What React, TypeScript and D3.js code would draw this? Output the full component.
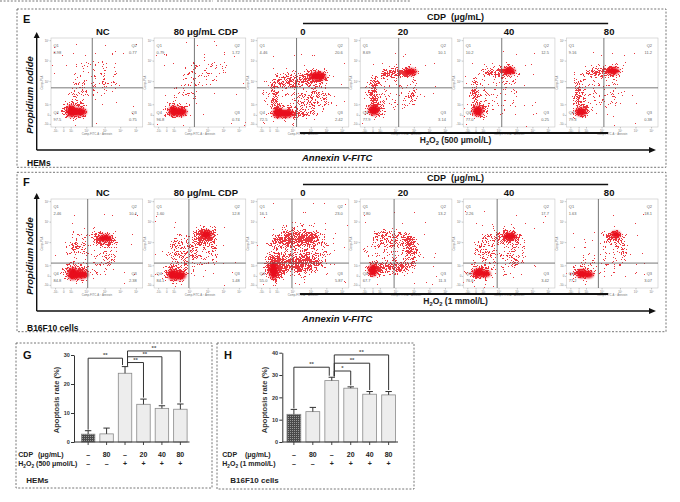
import * as d3 from 'd3';
import { useEffect, useRef } from 'react';

const FONT = '"Liberation Sans", Arial, Helvetica, sans-serif';

// ---- flow cytometry panels (E: HEMs, F: B16F10) ----
const flowTitles = ['NC', '80 μg/mL CDP', '0', '20', '40', '80'];
const titleShift = [6, 6, 0, -3, 0, -3];

// quadrant percentages: Q1, Q2, Q3, Q4
const hemQuadrants = [
  ['0.98', '0.77', '0.75', '97.5'],
  ['0.79', '1.72', '0.74', '96.8'],
  ['4.46', '20.6', '2.42', '72.5'],
  ['8.69', '10.1', '3.14', '77.9'],
  ['10.2', '12.5', '0.25', '77.0'],
  ['9.16', '11.2', '0.38', '79.3'],
];
const b16Quadrants = [
  ['2.46', '10.4', '2.38', '84.8'],
  ['1.60', '12.8', '1.48', '84.1'],
  ['16.1', '23.0', '5.87', '55.0'],
  ['7.80', '13.2', '11.3', '67.7'],
  ['2.26', '17.7', '3.42', '76.6'],
  ['1.63', '18.1', '3.07', '77.2'],
];

// gate positions in display units (0–100)
const hemGateX = [45, 44, 43, 42, 42, 41];
const hemGateY = 44;
const b16GateX = [40, 38, 38, 37, 37, 35];
const b16GateY = 28;

// dense event cores: [cx, cy, rx, ry]; sparse clouds: [cx, cy, rx, ry, density]
type Core = [number, number, number, number];
type Cloud = [number, number, number, number, number];
const hemCores: Core[][] = [
  [[22, 18, 5, 7], [30, 17, 9, 5]],
  [[21, 18, 5, 6], [28, 17, 8, 5]],
  [[23, 16, 6, 6], [31, 15, 9, 4.5], [66, 57, 9, 5]],
  [[15, 19, 6, 6], [55, 62, 7, 4]],
  [[16, 18, 6, 6], [50, 63, 7, 4]],
  [[16, 17, 6, 5], [51, 63, 7, 4]],
];
const hemClouds: Cloud[][] = [
  [[25, 18, 15, 10, 0.55], [30, 36, 12, 14, 0.2], [50, 55, 26, 22, 0.18]],
  [[24, 18, 14, 9, 0.55], [35, 40, 15, 15, 0.18], [55, 62, 24, 14, 0.2]],
  [[28, 16, 14, 8, 0.55], [45, 15, 18, 5, 0.45], [19, 35, 5, 16, 0.5], [36, 52, 18, 7, 0.45], [64, 57, 16, 9, 0.55], [62, 30, 22, 14, 0.26], [40, 40, 35, 30, 0.17]],
  [[16, 20, 10, 9, 0.55], [14, 40, 5, 18, 0.55], [35, 61, 18, 6, 0.5], [54, 62, 11, 6, 0.65], [56, 34, 6, 6, 0.4], [35, 40, 30, 25, 0.19]],
  [[17, 18, 10, 9, 0.55], [12, 40, 4, 18, 0.55], [35, 62, 18, 6, 0.45], [50, 63, 11, 6, 0.65], [35, 40, 28, 25, 0.17]],
  [[17, 18, 10, 8, 0.55], [13, 40, 4, 18, 0.55], [35, 62, 18, 6, 0.45], [51, 63, 11, 6, 0.65], [35, 40, 28, 25, 0.17]],
];
const b16Cores: Core[][] = [
  [[24, 16, 6, 7], [32, 15, 9, 5], [59, 56, 7, 4]],
  [[20, 15, 5, 6], [27, 14, 8, 5], [57, 60, 6, 5]],
  [[18, 20, 5, 10]],
  [[14, 20, 5, 7]],
  [[17, 17, 7, 5], [24, 16, 6, 4], [51, 58, 7, 4]],
  [[17, 16, 6, 5], [24, 15, 6, 4], [54, 60, 5, 4]],
];
const b16Clouds: Cloud[][] = [
  [[26, 17, 15, 10, 0.55], [58, 55, 13, 8, 0.6], [28, 47, 10, 9, 0.3], [64, 38, 4, 12, 0.35], [45, 40, 30, 28, 0.17]],
  [[23, 16, 14, 10, 0.55], [56, 59, 13, 10, 0.6], [35, 42, 18, 15, 0.26], [65, 38, 5, 14, 0.3], [40, 40, 30, 28, 0.16]],
  [[20, 22, 11, 15, 0.65], [40, 55, 24, 8, 0.45], [57, 57, 9, 6, 0.55], [50, 27, 20, 8, 0.5], [45, 42, 32, 25, 0.27], [45, 40, 40, 35, 0.14]],
  [[16, 20, 9, 9, 0.65], [40, 24, 18, 6, 0.55], [56, 45, 7, 18, 0.45], [35, 55, 22, 10, 0.3], [35, 40, 32, 28, 0.18]],
  [[18, 17, 13, 9, 0.55], [50, 57, 13, 9, 0.6], [25, 45, 14, 15, 0.26], [55, 35, 10, 12, 0.24], [40, 40, 30, 28, 0.15]],
  [[17, 17, 12, 8, 0.55], [53, 58, 11, 8, 0.55], [62, 42, 5, 14, 0.34], [40, 38, 28, 25, 0.15]],
];

const flowTicksY = [3, 13, 25, 51, 74, 97];
const flowTickLabelsY = ['-10³', '0', '10³', '10⁴', '10⁵', '10⁶'];
const flowTicksX = [5, 14, 22, 39, 59, 76, 93];
const flowTickLabelsX = ['-10³', '0', '10³', '10⁴', '10⁵', '10⁶', '10⁷'];

// ---- bar charts (G: HEMs, H: B16F10) ----
const cdpRow = ['–', '80', '–', '20', '40', '80'];
const h2o2Row = ['–', '–', '+', '+', '+', '+'];
const hemMeans = [2.7, 2.8, 23.7, 13.0, 11.6, 11.3];
const hemErrors = [1.2, 2.0, 2.3, 1.8, 0.9, 1.8];
const b16Means = [12.4, 13.6, 27.5, 24.1, 21.4, 21.1];
const b16Errors = [2.2, 1.9, 1.5, 0.6, 1.2, 1.5];
const hemTicks = [0, 10, 20, 30];
const b16Ticks = [0, 10, 20, 30, 40];

type Bracket = { from: number; to: number; level: number; label: string };
const hemBrackets: Bracket[] = [
  { from: 0, to: 2, level: 28.9, label: '**' },
  { from: 2, to: 5, level: 31.4, label: '**' },
  { from: 2, to: 4, level: 29.4, label: '**' },
  { from: 2, to: 3, level: 27.4, label: '**' },
];
const b16Brackets: Bracket[] = [
  { from: 0, to: 2, level: 33.5, label: '**' },
  { from: 2, to: 5, level: 39, label: '**' },
  { from: 2, to: 4, level: 35.3, label: '**' },
  { from: 2, to: 3, level: 31.8, label: '*' },
];

const flowX = d3.scaleBand<number>().domain(d3.range(6)).range([51, 658]).paddingInner(0.11);

function H2O2({ x, y, size, rest, anchor = 'start' }: { x: number; y: number; size: number; rest: string; anchor?: string }) {
  const s = size * 0.68;
  const d = size * 0.28;
  return (
    <text x={x} y={y} fontSize={size} fontWeight="bold" textAnchor={anchor as any} fill="#222">
      H<tspan fontSize={s} dy={d}>2</tspan>
      <tspan dy={-d}>O</tspan>
      <tspan fontSize={s} dy={d}>2</tspan>
      <tspan dy={-d}>{rest}</tspan>
    </text>
  );
}

function FlowPanel({ id, i, top, bottom, quad, gateX, gateY, cores, clouds, title }: {
  id: string; i: number; top: number; bottom: number; quad: string[]; gateX: number; gateY: number;
  cores: Core[]; clouds: Cloud[]; title: string;
}) {
  const x0 = flowX(i)!;
  const bw = flowX.bandwidth();
  const sx = d3.scaleLinear().domain([0, 100]).range([x0, x0 + bw]);
  const sy = d3.scaleLinear().domain([0, 100]).range([bottom, top]);
  const kx = bw / 100;
  const ky = (bottom - top) / 100;
  const q = 4;
  return (
    <g>
      <clipPath id={`clip-${id}`}>
        <rect x={x0} y={top} width={bw} height={bottom - top} />
      </clipPath>
      <rect x={x0} y={top} width={bw} height={bottom - top} fill="#fff" stroke="#c4c4c4" strokeWidth={0.6} />
      <g clipPath={`url(#clip-${id})`}>
        <g filter="url(#speckle)" opacity={0.9}>
          {clouds.map(([cx, cy, rx, ry, w], k) => (
            <ellipse key={k} cx={sx(cx)} cy={sy(cy)} rx={rx * kx} ry={ry * ky} fill="#000" fillOpacity={w} />
          ))}
        </g>
        <g filter="url(#soft)">
          {cores.map(([cx, cy, rx, ry], k) => (
            <ellipse key={k} cx={sx(cx)} cy={sy(cy)} rx={rx * kx} ry={ry * ky} fill="#e8101a" />
          ))}
        </g>
      </g>
      <line x1={sx(gateX)} x2={sx(gateX)} y1={top} y2={bottom} stroke="#555" strokeWidth={0.8} />
      <line x1={x0} x2={x0 + bw} y1={sy(gateY)} y2={sy(gateY)} stroke="#555" strokeWidth={0.8} />
      <g fontSize={q} fill="#666">
        <text x={x0 + 2.5} y={top + 8.5}>Q1</text>
        <text x={x0 + 2.5} y={top + 15.5}>{quad[0]}</text>
        <text x={x0 + bw - 6} y={top + 8.5} textAnchor="end">Q2</text>
        <text x={x0 + bw - 6} y={top + 15.5} textAnchor="end">{quad[1]}</text>
        <text x={x0 + 2.5} y={bottom - 13}>Q4</text>
        <text x={x0 + 2.5} y={bottom - 6}>{quad[3]}</text>
        <text x={x0 + bw - 6} y={bottom - 13} textAnchor="end">Q3</text>
        <text x={x0 + bw - 6} y={bottom - 6} textAnchor="end">{quad[2]}</text>
      </g>
      <g stroke="#777" strokeWidth={0.4}>
        {flowTicksY.map((t) => (
          <line key={t} x1={x0 - 1.5} x2={x0} y1={sy(t)} y2={sy(t)} />
        ))}
        {flowTicksX.map((t) => (
          <line key={t} x1={sx(t)} x2={sx(t)} y1={bottom} y2={bottom + 1.5} />
        ))}
      </g>
      <g fontSize={2.8} fill="#777">
        {flowTicksY.map((t, k) => (
          <text key={t} x={x0 - 2} y={sy(t) + 1} textAnchor="end">{flowTickLabelsY[k]}</text>
        ))}
        {flowTicksX.map((t, k) => (
          <text key={t} x={sx(t)} y={bottom + 4.5} textAnchor="middle">{flowTickLabelsX[k]}</text>
        ))}
        <text transform={`translate(${x0 - 8},${sy(50)}) rotate(-90)`} textAnchor="middle">Comp-PI-A</text>
        <text x={sx(50)} y={bottom + 8} textAnchor="middle">Comp-FITC-A :: Annexin</text>
      </g>
      <text x={x0 + bw / 2 + titleShift[i]} y={top - 3.5} textAnchor="middle" fontSize={9.5} fontWeight="bold" fill="#111">
        {title}
      </text>
    </g>
  );
}

function FlowFigure({ letter, top, bottom, boxTop, boxBottom, quads, gatesX, gateY, cores, clouds, cellLabel, doseLabel, prefix }: {
  letter: string; top: number; bottom: number; boxTop: number; boxBottom: number; quads: string[][]; gatesX: number[];
  gateY: number; cores: Core[][]; clouds: Cloud[][]; cellLabel: string; doseLabel: string; prefix: string;
}) {
  const x0 = flowX(2)! + flowX.bandwidth() / 2;
  const x1 = flowX(5)! + flowX.bandwidth() / 2 - 4;
  const axisY = bottom + 23;
  const arrowTop = top - 6;
  return (
    <g>
      <rect x={17} y={boxTop} width={649} height={boxBottom - boxTop} fill="none" stroke="#666" strokeWidth={0.9} strokeDasharray="2 1.6" />
      <text x={23} y={boxTop + 14} fontSize={11} fontWeight="bold" fill="#111">{letter}</text>
      <text x={(x0 + x1) / 2} y={top - 18} textAnchor="middle" fontSize={9} fontWeight="bold" fill="#111">
        CDP<tspan dx={5}>(μg/mL)</tspan>
      </text>
      <line x1={x0} x2={x1} y1={top - 14.5} y2={top - 14.5} stroke="#111" strokeWidth={1.4} />
      {flowTitles.map((t, i) => (
        <FlowPanel key={t} id={`${prefix}${i}`} i={i} top={top} bottom={bottom} quad={quads[i]} gateX={gatesX[i]} gateY={gateY}
          cores={cores[i]} clouds={clouds[i]} title={t} />
      ))}
      <line x1={x0 - 3} x2={x1} y1={bottom + 6} y2={bottom + 6} stroke="#111" strokeWidth={1.8} />
      <H2O2 x={(x0 + x1) / 2} y={bottom + 16} size={8.5} rest={doseLabel} anchor="middle" />
      <path d={`M36.7,${axisY} V${arrowTop + 5} M36.7,${axisY} H650`} stroke="#111" strokeWidth={1.4} fill="none" />
      <path d={`M33.7,${arrowTop + 6} L36.7,${arrowTop} L39.7,${arrowTop + 6} Z`} fill="#111" />
      <path d={`M649,${axisY - 3} L656,${axisY} L649,${axisY + 3} Z`} fill="#111" />
      <text transform={`translate(32.5,${(arrowTop + axisY) / 2 + 4}) rotate(-90)`} textAnchor="middle" fontSize={9.5} fontWeight="bold" fontStyle="italic" fill="#111">
        Propidium Iodide
      </text>
      <text x={302} y={axisY + 10.5} fontSize={9.5} fontWeight="bold" fontStyle="italic" fill="#111">Annexin V-FITC</text>
      <text x={27} y={boxBottom - 1} fontSize={8.5} fontWeight="bold" fill="#111">{cellLabel}</text>
    </g>
  );
}

function YAxis({ scale, x, ticks }: { scale: d3.ScaleLinear<number, number>; x: number; ticks: number[] }) {
  const ref = useRef<SVGGElement>(null);
  useEffect(() => {
    const g = d3.select(ref.current!);
    g.selectAll('*').remove();
    g.call(d3.axisLeft(scale).tickValues(ticks).tickSize(3).tickSizeOuter(0).tickPadding(1.2) as any);
    g.select('.domain').attr('stroke', '#333').attr('stroke-width', 1);
    g.selectAll('.tick line').attr('stroke', '#333');
    g.selectAll('.tick text')
      .attr('font-size', 5.5)
      .attr('font-weight', 'bold')
      .attr('fill', '#333')
      .attr('font-family', FONT);
  }, [scale, ticks]);
  return <g ref={ref} transform={`translate(${x},0)`} />;
}

function BarChart({ box, letter, means, errors, ticks, yMax, yTop, axisX, xRange, brackets, labelX, valueX, dose, cellLabel, pid }: {
  box: [number, number, number, number]; letter: string; means: number[]; errors: number[]; ticks: number[]; yMax: number;
  yTop: number; axisX: number; xRange: [number, number]; brackets: Bracket[]; labelX: number; valueX: number; dose: string;
  cellLabel: string; pid: string;
}) {
  const base = 442;
  const y = d3.scaleLinear().domain([0, yMax]).range([base, yTop]);
  const x = d3.scaleBand<number>().domain(d3.range(means.length)).range(xRange).paddingInner(0.27).paddingOuter(0.13);
  const bw = x.bandwidth();
  const cx = (i: number) => x(i)! + bw / 2;
  const top = (i: number) => y(means[i] + errors[i]);
  return (
    <g>
      <rect x={box[0]} y={box[1]} width={box[2]} height={box[3]} fill="none" stroke="#666" strokeWidth={0.9} strokeDasharray="2 1.6" />
      <text x={box[0] + 7} y={359} fontSize={11} fontWeight="bold" fill="#111">{letter}</text>
      <text transform={`translate(${axisX - 15},400) rotate(-90)`} textAnchor="middle" fontSize={7.5} fontWeight="bold" fill="#333">
        Apoptosis rate (%)
      </text>
      {means.map((m, i) => (
        <g key={i}>
          <rect x={x(i)} y={y(m)} width={bw} height={base - y(m)} fill={i === 0 ? `url(#${pid})` : '#ededed'} stroke="#8a8a8a" strokeWidth={0.8} />
          <line x1={cx(i)} x2={cx(i)} y1={y(m)} y2={top(i)} stroke="#333" strokeWidth={1} />
          <line x1={cx(i) - 3.2} x2={cx(i) + 3.2} y1={top(i)} y2={top(i)} stroke="#333" strokeWidth={1} />
        </g>
      ))}
      <YAxis scale={y} x={axisX} ticks={ticks} />
      <line x1={axisX} x2={xRange[1]} y1={base} y2={base} stroke="#333" strokeWidth={1} />
      {means.map((_, i) => (
        <line key={i} x1={cx(i)} x2={cx(i)} y1={base} y2={base + 3} stroke="#333" strokeWidth={0.9} />
      ))}
      {brackets.map((b, k) => {
        const xa = b.from === 2 && b.to > 2 ? cx(b.from) + 2.5 : cx(b.from);
        const xb = b.to === 2 ? cx(b.to) - 2.5 : cx(b.to);
        const ly = y(b.level);
        return (
          <g key={k}>
            <path d={`M${xa},${top(b.from) - 1} V${ly} H${xb} V${top(b.to) - 1.5}`} fill="none" stroke="#333" strokeWidth={1} />
            <text x={(xa + xb) / 2} y={ly - 1} textAnchor="middle" fontSize={6} fontWeight="bold" fill="#555">{b.label}</text>
          </g>
        );
      })}
      <g fontSize={7} fontWeight="bold" fill="#222">
        <text x={labelX} y={456.5}>CDP</text>
        <text x={valueX} y={456.5}>(μg/mL)</text>
        {cdpRow.map((t, i) => (
          <text key={i} x={cx(i)} y={456.5} textAnchor="middle">{t}</text>
        ))}
        {h2o2Row.map((t, i) => (
          <text key={i} x={cx(i)} y={466} textAnchor="middle">{t}</text>
        ))}
      </g>
      <H2O2 x={labelX} y={466} size={7} rest={dose} />
      <text x={labelX + 8} y={482.5} fontSize={8} fontWeight="bold" fill="#222">{cellLabel}</text>
    </g>
  );
}

export default function App() {
  return (
    <svg width={680} height={502} viewBox="0 0 680 502" style={{ position: 'absolute', left: 0, top: 0, background: '#fff' }} fontFamily={FONT}>
      <defs>
        <filter id="speckle" x="-30%" y="-30%" width="160%" height="160%" colorInterpolationFilters="sRGB">
          <feGaussianBlur in="SourceAlpha" stdDeviation="2.6" result="dens" />
          <feTurbulence type="fractalNoise" baseFrequency="1.9" numOctaves="1" seed="5" result="noise" />
          <feComposite in="dens" in2="noise" operator="arithmetic" k1="0" k2="1.5" k3="3" k4="-1.75" result="sum" />
          <feComponentTransfer in="sum" result="mask">
            <feFuncA type="discrete" tableValues="0 1" />
          </feComponentTransfer>
          <feFlood floodColor="#e8222a" result="red" />
          <feComposite in="red" in2="mask" operator="in" />
        </filter>
        <filter id="soft" x="-30%" y="-30%" width="160%" height="160%">
          <feGaussianBlur stdDeviation="0.8" />
        </filter>
        <pattern id="hatchG" width="2" height="2" patternUnits="userSpaceOnUse">
          <rect width="2" height="2" fill="#4a4a4a" />
          <rect width="1" height="1" fill="#9a9a9a" />
        </pattern>
        <pattern id="hatchH" width="2" height="2" patternUnits="userSpaceOnUse">
          <rect width="2" height="2" fill="#4a4a4a" />
          <rect width="1" height="1" fill="#9a9a9a" />
        </pattern>
      </defs>
      <rect width={680} height={502} fill="#fff" />
      <line x1={0} x2={213} y1={1} y2={1} stroke="#666" strokeWidth={0.9} strokeDasharray="2 1.6" />
      <line x1={217} x2={410} y1={1} y2={1} stroke="#666" strokeWidth={0.9} strokeDasharray="2 1.6" />
      <FlowFigure
        letter="E" prefix="e" top={38} bottom={127} boxTop={9} boxBottom={167.3}
        quads={hemQuadrants} gatesX={hemGateX} gateY={hemGateY} cores={hemCores} clouds={hemClouds}
        cellLabel="HEMs" doseLabel=" (500 μmol/L)"
      />
      <FlowFigure
        letter="F" prefix="f" top={199} bottom={288} boxTop={172.3} boxBottom={331.7}
        quads={b16Quadrants} gatesX={b16GateX} gateY={b16GateY} cores={b16Cores} clouds={b16Clouds}
        cellLabel="B16F10 cells" doseLabel=" (1 mmol/L)"
      />
      <BarChart
        box={[16, 343, 196, 145]} letter="G" means={hemMeans} errors={hemErrors} ticks={hemTicks} yMax={30} yTop={355}
        axisX={74} xRange={[79, 189.5]} brackets={hemBrackets} labelX={18.3} valueX={38} dose=" (500 μmol/L)"
        cellLabel="HEMs" pid="hatchG"
      />
      <BarChart
        box={[217, 343, 197, 146]} letter="H" means={b16Means} errors={b16Errors} ticks={b16Ticks} yMax={40} yTop={352.7}
        axisX={282.3} xRange={[284.5, 398]} brackets={b16Brackets} labelX={222.3} valueX={245} dose=" (1 mmol/L)"
        cellLabel="B16F10 cells" pid="hatchH"
      />
    </svg>
  );
}
